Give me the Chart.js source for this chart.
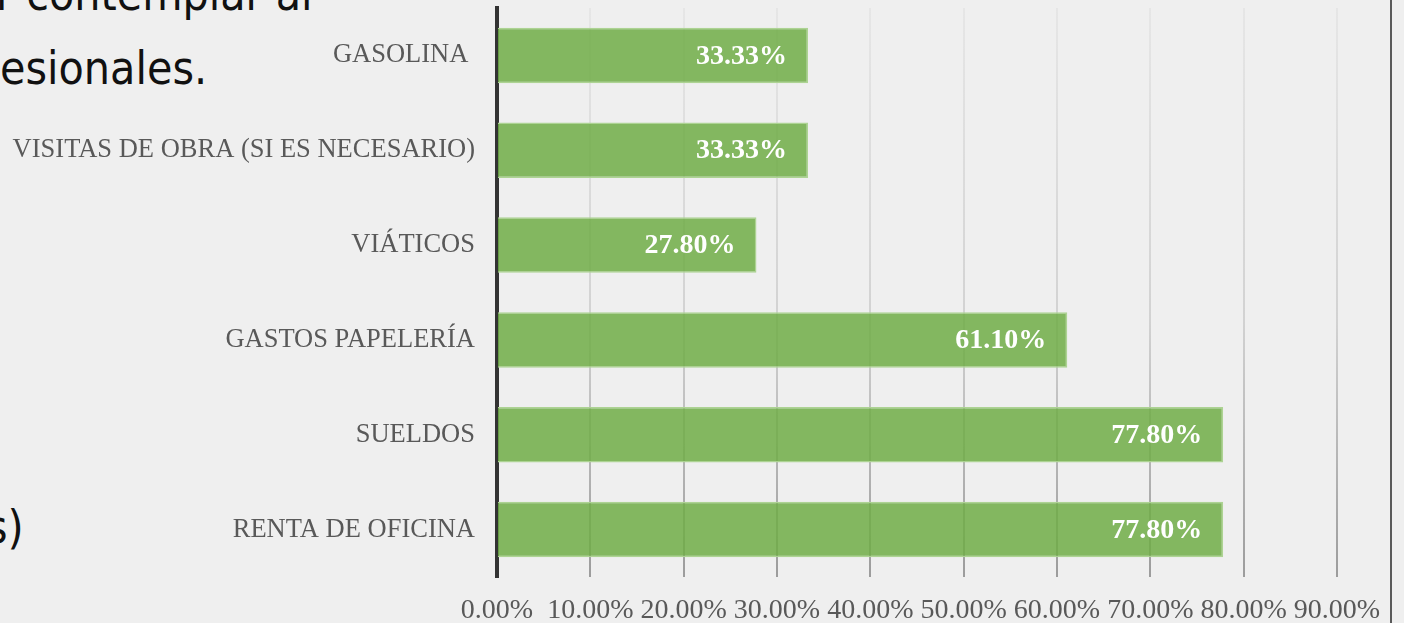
<!DOCTYPE html>
<html>
<head>
<meta charset="utf-8">
<script src="https://cdn.jsdelivr.net/npm/chart.js@4.4.1/dist/chart.umd.min.js"></script>
<style>
  html, body { margin: 0; padding: 0; background: #efefef; overflow: hidden; }
  #wrap { position: absolute; left: 0; top: 0; width: 1404px; height: 623px; }
  .doc { position: absolute; font-family: 'Liberation Sans Narrow', 'DejaVu Sans Condensed', sans-serif;
         font-size: 46px; line-height: 46px; color: #111; white-space: nowrap; }
  #frame { position: absolute; left: 1390px; top: 0; width: 2px; height: 623px; background: #5a5a5a; }
</style>
</head>
<body>
<div class="doc" style="left:-4px; top:-29px;">r contemplar al</div>
<div class="doc" style="left:0px; top:45px;">esionales.</div>
<div class="doc" style="left:-14px; top:504px;">s)</div>
<div id="wrap"><canvas id="gastosChart"></canvas></div>
<div id="frame"></div>
<script>
// datos del grafico
const categorias = ['GASOLINA ', 'VISITAS DE OBRA (SI ES NECESARIO)', 'VIÁTICOS', 'GASTOS PAPELERÍA', 'SUELDOS', 'RENTA DE OFICINA'];
const porcentajes = [0.3333, 0.3333, 0.278, 0.611, 0.778, 0.778];
const ejeMin = 0;
const ejeMax = 0.9;
const ejePaso = 0.1;

const fmtPct = v => (v * 100).toFixed(2) + '%';

Chart.defaults.font.family = "'Liberation Serif', 'Times New Roman', serif";

// etiquetas blancas dentro de cada barra
const etiquetasBarras = {
    id: 'etiquetasBarras',
    afterDatasetsDraw(chart) {
        const ctx = chart.ctx;
        const meta = chart.getDatasetMeta(0);
        ctx.save();
        ctx.font = "bold 28px 'Liberation Serif', 'Times New Roman', serif";
        ctx.fillStyle = '#ffffff';
        ctx.textAlign = 'right';
        ctx.textBaseline = 'middle';
        meta.data.forEach((bar, i) => {
            ctx.fillText(fmtPct(porcentajes[i]), bar.x - 21, bar.y + 1);
        });
        ctx.restore();
    }
};

// lineas de cuadricula: mas claras arriba, mas oscuras abajo
function colorRejilla(c) {
    const area = c.chart.chartArea;
    if (!area) return '#cccccc';
    const g = c.chart.ctx.createLinearGradient(0, area.top, 0, area.bottom);
    g.addColorStop(0, '#e6e6e6');
    g.addColorStop(0.55, '#d2d2d2');
    g.addColorStop(1, '#9c9c9c');
    return g;
}

const ctx = document.getElementById('gastosChart').getContext('2d');
new Chart(ctx, {
    type: 'bar',
    data: {
        labels: categorias,
        datasets: [{
            data: porcentajes,
            backgroundColor: 'rgba(112, 173, 71, 0.85)',
            borderColor: '#add393',
            borderWidth: 1.5,
            barPercentage: 0.586,
            categoryPercentage: 1
        }]
    },
    options: {
        indexAxis: 'y',
        responsive: true,
        maintainAspectRatio: false,
        animation: false,
        layout: { padding: { top: 8, right: 67, bottom: 0, left: 0 } },
        plugins: {
            legend: { display: false },
            tooltip: { enabled: false }
        },
        scales: {
            x: {
                min: ejeMin,
                max: ejeMax,
                ticks: {
                    stepSize: ejePaso,
                    autoSkip: false,
                    maxRotation: 0,
                    padding: 17,
                    color: '#595959',
                    font: { size: 28 },
                    callback: v => fmtPct(v)
                },
                grid: { color: colorRejilla, lineWidth: 2, drawTicks: false },
                border: { display: false },
                afterFit: s => { s.height = 46; }
            },
            y: {
                z: 1,
                ticks: {
                    padding: 22,
                    color: '#595959',
                    font: { size: 26.5 }
                },
                grid: { display: false, drawTicks: false },
                border: { display: true, color: '#333333', width: 4 },
                afterFit: s => {
                    s.width = 497;
                    s.paddingTop = 0;
                    s.paddingBottom = 0;
                }
            }
        }
    },
    plugins: [etiquetasBarras]
});
</script>
</body>
</html>
